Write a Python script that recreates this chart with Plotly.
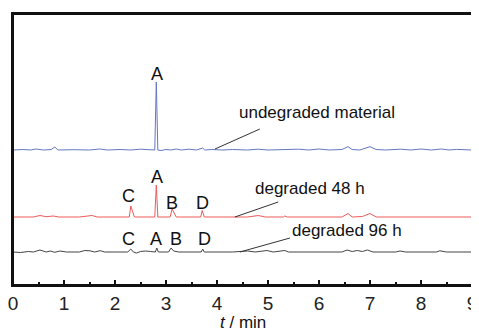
import plotly.graph_objects as go

# ---- data (signal above each trace's baseline, arbitrary units) ----
t_undeg = [0.0, 0.2, 0.35, 0.45, 0.6, 0.75, 0.82, 0.88, 1.2, 1.5, 1.7, 1.85, 2.1, 2.3, 2.5, 2.7,
           2.78, 2.81, 2.84, 2.9, 3.0, 3.1, 3.2, 3.3, 3.45, 3.6, 3.72, 3.76, 3.9, 4.1, 4.3, 4.6,
           4.8, 5.0, 5.3, 5.6, 5.8, 6.0, 6.2, 6.45, 6.57, 6.65, 6.8, 7.0, 7.12, 7.3, 7.6, 7.8,
           8.0, 8.2, 8.4, 8.55, 8.7, 8.85, 9.0]
s_undeg = [0, 0.5, 0, 1, 0, 0.5, 3, 0, 0.3, 0, 1, 0, 0.5, 0, 0.8, 0,
           0, 68, 0, -0.5, 0.5, 0, 1, 0, 0.8, 0, 2, 0, 0.5, 0, 0.5, 0,
           0.8, 0, 0.3, 0.8, 0, 1, 0, 0.5, 3.3, 0.5, 0, 3.3, 0.5, 0, 0.8, 0,
           1, 0, 1, 0, 0.6, 0, 0]

t_48 = [0.0, 0.4, 0.53, 0.65, 0.79, 0.9, 1.3, 1.45, 1.55, 1.65, 2.2, 2.28, 2.31, 2.38, 2.78,
        2.81, 2.84, 3.08, 3.12, 3.2, 3.68, 3.71, 3.75, 4.6, 4.81, 4.95, 5.3, 5.33, 5.38, 6.45,
        6.57, 6.65, 6.85, 7.0, 7.12, 9.0]
s_48 = [0, 0, 1.5, 0.3, 1, 0, 0, 1, 1.5, 0, 0, 0, 11, 0, 0,
        32, 0, 0, 8, 0, 0, 6.5, 0, 0, 1.5, 0, 0, 1, 0, 0,
        3.5, 0, 0.5, 3.5, 0, 0]

t_96 = [0.0, 0.15, 0.3, 0.4, 0.53, 0.65, 0.73, 0.82, 0.92, 1.05, 1.3, 1.41, 1.51, 1.6, 1.71,
        1.8, 2.25, 2.31, 2.36, 2.42, 2.5, 2.6, 2.7, 2.79, 2.82, 2.85, 3.05, 3.1, 3.15, 3.25,
        3.69, 3.72, 3.75, 4.3, 4.6, 4.75, 4.98, 5.1, 5.33, 5.4, 6.45, 6.55, 6.65, 6.75, 6.85,
        6.95, 7.06, 7.5, 7.59, 7.7, 8.3, 8.37, 8.5, 9.0]
s_96 = [0, -0.5, 0.5, 0, 2, 0, 1, -0.3, 1, 0, 0, 1.5, 1.2, 0, 1.3,
        0, 0, 3, 0, -1, 0.5, 1, 0.5, 0, 4, 0, 0, 4, 1, 0,
        0, 3, 0, 0, 1, 0, 1.5, 0, 1.5, 0, 0, 2, 0.5, 1.5, 0.5,
        2, 0, 0, 1, 0, 0, 1.2, 0, 0]

peak_names = ["C", "A", "B", "D"]
peak_times = [2.31, 2.82, 3.12, 3.72]
x_ticks = [0, 1, 2, 3, 4, 5, 6, 7, 8, 9]

series_names = ["undegraded material", "degraded 48 h", "degraded 96 h"]
x_title = "<i>t</i> / min"

# ---- layout constants ----
OFF_U, OFF_48, OFF_96 = 135, 68, 33
colors = ["#6577c4", "#f05a5a", "#444444"]
FONT = "Liberation Sans"

fig = go.Figure()
for tt, ss, off, col, nm in [(t_undeg, s_undeg, OFF_U, colors[0], series_names[0]),
                             (t_48, s_48, OFF_48, colors[1], series_names[1]),
                             (t_96, s_96, OFF_96, colors[2], series_names[2])]:
    fig.add_trace(go.Scatter(x=tt, y=[v + off for v in ss], mode="lines",
                             line=dict(color=col, width=1), name=nm,
                             showlegend=False, hoverinfo="skip"))

ann = []
# peak labels
ann.append(dict(x=peak_times[1], y=OFF_U + 76, text="A", showarrow=False,
                font=dict(size=18, color="#111", family=FONT), xref="x", yref="y"))
red_y = [OFF_48 + 21, OFF_48 + 40, OFF_48 + 14, OFF_48 + 14]
red_dx = [-0.05, 0.0, 0.0, 0.0]
for nm, pt, yy, dx in zip(peak_names, peak_times, red_y, red_dx):
    ann.append(dict(x=pt + dx, y=yy, text=nm, showarrow=False,
                    font=dict(size=18, color="#111", family=FONT), xref="x", yref="y"))
blk_dx = [-0.04, -0.02, 0.08, 0.04]
for nm, pt, dx in zip(peak_names, peak_times, blk_dx):
    ann.append(dict(x=pt + dx, y=OFF_96 + 13.5, text=nm, showarrow=False,
                    font=dict(size=18, color="#111", family=FONT), xref="x", yref="y"))

# series labels
label_pos = [(5.97, OFF_U + 38), (5.82, OFF_48 + 29), (6.55, OFF_96 + 22)]
for nm, (lx, ly) in zip(series_names, label_pos):
    ann.append(dict(x=lx, y=ly, text=nm, showarrow=False,
                    font=dict(size=17, color="#111", family=FONT), xref="x", yref="y"))

# axis title
ann.append(dict(x=4.5, y=-0.138, xref="x", yref="paper", text=x_title, showarrow=False,
                yanchor="middle", font=dict(size=17, color="#111", family=FONT)))

# leader lines
shapes = []
leaders = [((4.84, OFF_U + 21), (3.96, OFF_U + 1)),
           ((5.2, OFF_48 + 15), (4.35, OFF_48)),
           ((5.43, OFF_96 + 14), (4.45, OFF_96))]
for (x0, y0), (x1, y1) in leaders:
    shapes.append(dict(type="line", x0=x0, y0=y0, x1=x1, y1=y1, xref="x", yref="y",
                       line=dict(color="#333", width=1)))
# frame
shapes.append(dict(type="rect", xref="paper", yref="paper", x0=0, y0=0, x1=1, y1=1,
                   line=dict(color="#111", width=2), layer="above"))

# page body has an 8px default margin: compensate so the plot area lands where intended
fig.update_layout(
    width=471, height=323,
    margin=dict(l=5, r=7, t=6, b=46, autoexpand=False),
    paper_bgcolor="white", plot_bgcolor="white",
    annotations=ann, shapes=shapes,
    font=dict(family=FONT, color="#111"),
    xaxis=dict(range=[0, 9], tickvals=x_ticks, ticks="inside", ticklen=5, tickwidth=1.5,
               tickcolor="#111", showline=True, linecolor="#111", linewidth=2, mirror=True,
               showgrid=False, zeroline=False, automargin=False, ticklabeloverflow="allow",
               tickfont=dict(size=19, color="#222", family=FONT),
               minor=dict(dtick=0.5, ticks="inside", ticklen=3, tickwidth=1.5, tickcolor="#111")),
    yaxis=dict(range=[0, 271], showticklabels=False, ticks="", showline=True, linecolor="#111",
               linewidth=2, mirror=True, showgrid=False, zeroline=False, automargin=False),
)

fig.write_html("out.html")
